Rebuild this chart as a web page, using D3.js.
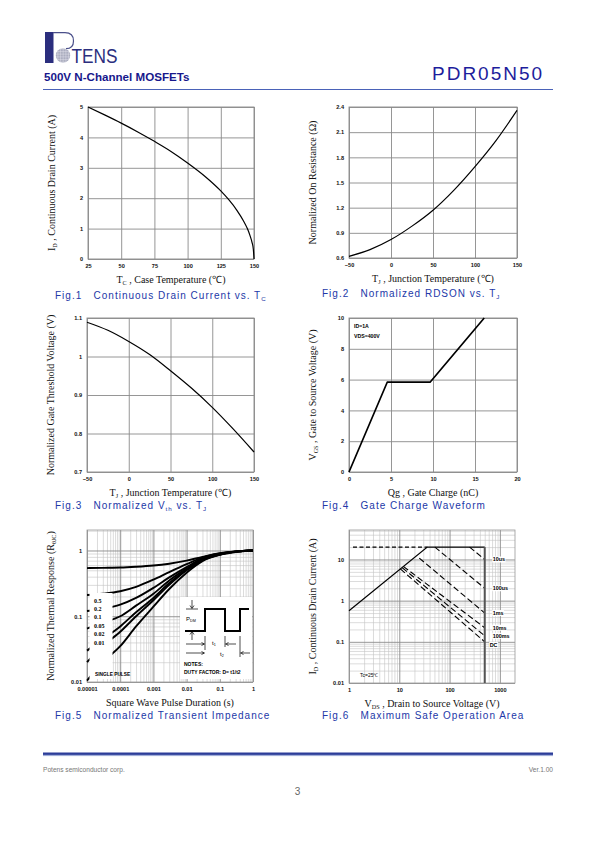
<!DOCTYPE html>
<html><head><meta charset="utf-8">
<script src="https://cdn.jsdelivr.net/npm/d3@7"></script>
<style>body{margin:0;background:#fff}svg{display:block}text{white-space:pre}</style>
</head><body>
<script>
// ---------------- DATA ----------------
// Fig.1  ID vs TC
const fig1_tc = [25,37.5,50,62.5,75,87.5,100,112.5,125,131,137,142,145,147,148.5,149.5,150];
const fig1_id = [5,4.74,4.47,4.18,3.87,3.54,3.16,2.74,2.24,1.95,1.61,1.26,1.0,0.77,0.55,0.32,0];
const fig1_xticks = [25,50,75,100,125,150];
const fig1_yticks = [0,1,2,3,4,5];
// Fig.2  normalized RDS(on) vs TJ
const fig2_tj = [-50,-25,0,25,50,75,100,125,150];
const fig2_r  = [0.62,0.70,0.82,0.98,1.17,1.41,1.69,2.0,2.36];
const fig2_xticks = [-50,0,50,100,150];
const fig2_yticks = [0.6,0.9,1.2,1.5,1.8,2.1,2.4];
// Fig.3  normalized Vth vs TJ
const fig3_tj  = [-50,-25,0,25,50,75,100,125,150];
const fig3_vth = [1.089,1.068,1.039,1.005,0.963,0.918,0.868,0.812,0.752];
const fig3_xticks = [-50,0,50,100,150];
const fig3_yticks = [0.7,0.8,0.9,1,1.1];
// Fig.4  gate charge
const fig4_qg  = [0,4.55,9.65,16.1];
const fig4_vgs = [0,5.83,5.83,10];
const fig4_xticks = [0,5,10,15,20];
const fig4_yticks = [0,2,4,6,8,10];
// Fig.5  transient thermal impedance
const fig5_t      = [1e-5,3e-5,1e-4,3e-4,1e-3,3e-3,1e-2,3e-2,0.1,0.3,1];
const fig5_d050   = [0.54,0.545,0.55,0.565,0.59,0.63,0.70,0.80,0.91,0.97,1.0];
const fig5_d020   = [0.21,0.22,0.24,0.28,0.36,0.47,0.62,0.78,0.90,0.97,1.0];
const fig5_d010   = [0.12,0.13,0.15,0.19,0.27,0.39,0.56,0.75,0.89,0.96,1.0];
const fig5_d005   = [0.065,0.08,0.10,0.145,0.22,0.35,0.53,0.73,0.88,0.96,1.0];
const fig5_d002   = [0.03,0.045,0.07,0.115,0.19,0.32,0.51,0.72,0.87,0.96,1.0];
const fig5_d001   = [0.02,0.035,0.058,0.10,0.175,0.30,0.50,0.71,0.87,0.96,1.0];
const fig5_single = [0.0105,0.02,0.035,0.07,0.14,0.26,0.46,0.69,0.86,0.95,1.0];
const fig5_labels = ["0.5","0.2","0.1","0.05","0.02","0.01"];
const fig5_xticks = [1e-5,1e-4,1e-3,1e-2,1e-1,1];
const fig5_xtickLabels = ["0.00001","0.0001","0.001","0.01","0.1","1"];
const fig5_yticks = [0.01,0.1,1];
const fig5_ytickLabels = ["0.01","0.1","1"];
// Fig.6  safe operating area
const fig6_limit_v = [1,36,500,500];
const fig6_limit_i = [0.57,20,20,0.01];
const fig6_idm_v = [1.2,36];
const fig6_idm_i = [20,20];
const fig6_names = ["10us","100us","1ms","10ms","100ms","DC"];
const fig6_v0 = [250,51,25,12,11.5,10.5];
const fig6_i0 = [20,20,10.8,6.8,6.3,5.9];
const fig6_v1 = [500,500,500,500,500,500];
const fig6_i1 = [10,2.0,0.5,0.22,0.14,0.1];
const fig6_xticks = [1,10,100,1000];
const fig6_yticks = [0.01,0.1,1,10];
const fig6_ytickLabels = ["0.01","0.1","1","10"];

// ---------------- SETUP ----------------
const SANS="'Liberation Sans',Arial,Helvetica,sans-serif";
const SERIF="'Liberation Serif','Times New Roman',serif";
const NAVY="#17178c", CAP="#2238a8";
const svg=d3.select("body").append("svg").attr("width",595).attr("height",842);

function rich(t, parts, fs){
  let prev=false;
  parts.forEach(([s,sub])=>{
    const ts=t.append("tspan").text(s);
    if(sub){ts.attr("font-size",fs*0.62).attr("dy",fs*0.22);}
    else if(prev){ts.attr("dy",-fs*0.22);}
    prev=sub;
  });
  return t;
}

// ---------------- HEADER ----------------
const logo=svg.append("g");
logo.append("rect").attr("x",45).attr("y",32).attr("width",8.5).attr("height",31).attr("fill","#2b2e7e");
logo.append("path").attr("d","M53,32.7 L65,32.7 C71,32.7 73.5,36 73.5,41 C73.5,46 71,48.7 66,48.7").attr("fill","none").attr("stroke","#4a4f8a").attr("stroke-width",1.2);
logo.append("clipPath").attr("id","globe").append("circle").attr("cx",63).attr("cy",55.5).attr("r",7.3);
const gl=logo.append("g").attr("clip-path","url(#globe)");
gl.append("circle").attr("cx",63).attr("cy",55.5).attr("r",7.3).attr("fill","#8d90a8");
d3.range(55.7,71,1.6).forEach(v=>gl.append("line").attr("x1",v).attr("x2",v).attr("y1",48).attr("y2",63).attr("stroke","#e8e8f0").attr("stroke-width",0.5));
d3.range(48.3,63,1.6).forEach(v=>gl.append("line").attr("y1",v).attr("y2",v).attr("x1",55).attr("x2",71).attr("stroke","#e8e8f0").attr("stroke-width",0.5));
logo.append("text").attr("x",71.5).attr("y",63).attr("font-family",SANS).attr("font-size",20)
  .attr("textLength",46).attr("lengthAdjust","spacingAndGlyphs").attr("fill","#2b2e7e").text("TENS");

svg.append("text").attr("x",44).attr("y",80.5).attr("font-family",SANS).attr("font-weight","bold")
  .attr("font-size",11.6).attr("fill",NAVY).text("500V N-Channel MOSFETs");
svg.append("text").attr("x",432).attr("y",80).attr("font-family",SANS).attr("font-size",19)
  .attr("letter-spacing",2).attr("fill","#1d1d9c").text("PDR05N50");
svg.append("line").attr("x1",43).attr("x2",553).attr("y1",89.5).attr("y2",89.5).attr("stroke","#4a62b8").attr("stroke-width",1.2);

// ---------------- FOOTER ----------------
svg.append("rect").attr("x",43).attr("y",752.5).attr("width",510).attr("height",2.4).attr("fill","#2c3d99");
svg.append("line").attr("x1",43).attr("x2",553).attr("y1",755.6).attr("y2",755.6).attr("stroke","#98a6d6").attr("stroke-width",1);
svg.append("text").attr("x",43).attr("y",771.5).attr("font-family",SANS).attr("font-size",6.6).attr("fill","#777").text("Potens semiconductor corp.");
svg.append("text").attr("x",553).attr("y",771.5).attr("text-anchor","end").attr("font-family",SANS).attr("font-size",6.6).attr("fill","#777").text("Ver.1.00");
svg.append("text").attr("x",297.5).attr("y",795).attr("text-anchor","middle").attr("font-family",SANS).attr("font-size",10).attr("fill","#666").text("3");

// ---------------- CHART HELPERS ----------------
function styleGrid(sel,color,w){
  sel.select(".domain").remove();
  sel.selectAll(".tick line").attr("stroke",color).attr("stroke-width",w);
  sel.selectAll(".tick text").remove();
}
function tickLabels(g,axis,transform){
  const a=g.append("g").attr("transform",transform).call(axis);
  a.select(".domain").remove();
  a.selectAll(".tick line").remove();
  a.selectAll(".tick text").attr("font-family",SANS).attr("font-weight","bold").attr("font-size",5.6).attr("fill","#111");
  return a;
}
function titles(c, xParts, yParts, capParts){
  const cx=(c.x0+c.x1)/2, cy=(c.y0+c.y1)/2;
  rich(svg.append("text").attr("x",cx).attr("y",c.y1+24).attr("text-anchor","middle")
    .attr("font-family",SERIF).attr("font-size",10).attr("fill","#111"), xParts, 10);
  rich(svg.append("text").attr("transform",`translate(${c.x0-33},${cy}) rotate(-90)`).attr("text-anchor","middle")
    .attr("font-family",SERIF).attr("font-size",10).attr("fill","#111"), yParts, 10);
  rich(svg.append("text").attr("x",c.capX).attr("y",c.capY).attr("font-family",SANS).attr("font-size",10)
    .attr("letter-spacing",1).attr("fill",CAP), capParts, 10);
}
function linChart(c){
  const x=d3.scaleLinear().domain(c.xd).range([c.x0,c.x1]);
  const y=d3.scaleLinear().domain(c.yd).range([c.y1,c.y0]);
  const g=svg.append("g");
  g.append("rect").attr("x",c.x0).attr("y",c.y0).attr("width",c.x1-c.x0).attr("height",c.y1-c.y0).attr("fill","#fff");
  styleGrid(g.append("g").attr("transform",`translate(0,${c.y1})`).call(d3.axisBottom(x).tickValues(c.xt).tickSize(-(c.y1-c.y0))),"#8a8a8a",0.9);
  styleGrid(g.append("g").attr("transform",`translate(${c.x0},0)`).call(d3.axisLeft(y).tickValues(c.yt).tickSize(-(c.x1-c.x0))),"#8a8a8a",0.9);
  g.append("rect").attr("x",c.x0).attr("y",c.y0).attr("width",c.x1-c.x0).attr("height",c.y1-c.y0).attr("fill","none").attr("stroke","#8a8a8a").attr("stroke-width",0.9);
  tickLabels(g,d3.axisBottom(x).tickValues(c.xt).tickSize(0).tickPadding(5).tickFormat(c.xf||d3.format("")),`translate(0,${c.y1})`);
  tickLabels(g,d3.axisLeft(y).tickValues(c.yt).tickSize(0).tickPadding(5).tickFormat(c.yf||d3.format("")),`translate(${c.x0},0)`);
  return {x,y,g};
}
function logChart(c){
  const x=d3.scaleLog().domain(c.xd).range([c.x0,c.x1]);
  const y=d3.scaleLog().domain(c.yd).range([c.y1,c.y0]);
  const g=svg.append("g");
  const xminor=[],yminor=[];
  for(let e=Math.floor(Math.log10(c.xd[0]));e<=Math.ceil(Math.log10(c.xd[1]));e++)
    for(let k=2;k<=9;k++){const v=k*Math.pow(10,e); if(v>c.xd[0]&&v<c.xd[1]) xminor.push(v);}
  for(let e=Math.floor(Math.log10(c.yd[0]));e<=Math.ceil(Math.log10(c.yd[1]));e++)
    for(let k=2;k<=9;k++){const v=k*Math.pow(10,e); if(v>c.yd[0]&&v<c.yd[1]) yminor.push(v);}
  styleGrid(g.append("g").attr("transform",`translate(0,${c.y1})`).call(d3.axisBottom(x).tickValues(xminor).tickSize(-(c.y1-c.y0))),"#c4c4c4",0.6);
  styleGrid(g.append("g").attr("transform",`translate(${c.x0},0)`).call(d3.axisLeft(y).tickValues(yminor).tickSize(-(c.x1-c.x0))),"#c4c4c4",0.6);
  styleGrid(g.append("g").attr("transform",`translate(0,${c.y1})`).call(d3.axisBottom(x).tickValues(c.xt).tickSize(-(c.y1-c.y0))),"#8a8a8a",0.9);
  styleGrid(g.append("g").attr("transform",`translate(${c.x0},0)`).call(d3.axisLeft(y).tickValues(c.yt).tickSize(-(c.x1-c.x0))),"#8a8a8a",0.9);
  g.append("rect").attr("x",c.x0).attr("y",c.y0).attr("width",c.x1-c.x0).attr("height",c.y1-c.y0).attr("fill","none").attr("stroke","#9a9a9a").attr("stroke-width",0.8);
  tickLabels(g,d3.axisBottom(x).tickValues(c.xt).tickSize(0).tickPadding(5).tickFormat((d,i)=>c.xl[i]),`translate(0,${c.y1})`);
  tickLabels(g,d3.axisLeft(y).tickValues(c.yt).tickSize(0).tickPadding(5).tickFormat((d,i)=>c.yl[i]),`translate(${c.x0},0)`);
  return {x,y,g};
}
function curve(ch,xs,ys,w,curveType){
  const pts=xs.map((v,i)=>[v,ys[i]]);
  ch.g.append("path").datum(pts).attr("fill","none").attr("stroke","#000").attr("stroke-width",w)
    .attr("stroke-linejoin","round")
    .attr("d",d3.line().x(d=>ch.x(d[0])).y(d=>ch.y(d[1])).curve(curveType||d3.curveLinear));
}

// ---------------- FIG 1 ----------------
const c1={x0:88,x1:254,y0:107,y1:259,capX:55,capY:299};
const ch1=linChart({...c1,xd:[25,150],yd:[0,5],xt:fig1_xticks,yt:fig1_yticks});
curve(ch1,fig1_tc,fig1_id,1.2,d3.curveMonotoneX);
titles(c1,[["T"],["C",1],[" , Case Temperature (℃)"]],[["I"],["D",1],[" , Continuous Drain Current (A)"]],
  [["Fig.1   Continuous Drain Current vs. T"],["C",1]]);

// ---------------- FIG 2 ----------------
const c2={x0:349,x1:517,y0:107,y1:258,capX:322,capY:297};
const ch2=linChart({...c2,xd:[-50,150],yd:[0.6,2.4],xt:fig2_xticks,yt:fig2_yticks,yf:d3.format(".1f")});
curve(ch2,fig2_tj,fig2_r,1.2,d3.curveMonotoneX);
titles(c2,[["T"],["J",1],[" , Junction Temperature (℃)"]],[["Normalized On Resistance (Ω)"]],
  [["Fig.2   Normalized RDSON vs. T"],["J",1]]);

// ---------------- FIG 3 ----------------
const c3={x0:87,x1:254,y0:318,y1:472,capX:55,capY:509};
const ch3=linChart({...c3,xd:[-50,150],yd:[0.7,1.1],xt:fig3_xticks,yt:fig3_yticks,yf:d3.format("")});
curve(ch3,fig3_tj,fig3_vth,1.2,d3.curveMonotoneX);
titles(c3,[["T"],["J",1],[" , Junction Temperature (℃)"]],[["Normalized Gate Threshold Voltage (V)"]],
  [["Fig.3   Normalized V"],["th",1],[" vs. T"],["J",1]]);

// ---------------- FIG 4 ----------------
const c4={x0:349,x1:517,y0:318,y1:472,capX:322,capY:509};
const ch4=linChart({...c4,xd:[0,20],yd:[0,10],xt:fig4_xticks,yt:fig4_yticks});
curve(ch4,fig4_qg,fig4_vgs,1.7);
ch4.g.append("text").attr("x",c4.x0+5).attr("y",c4.y0+10).attr("font-family",SANS).attr("font-weight","bold").attr("font-size",5.2).text("ID=1A");
ch4.g.append("text").attr("x",c4.x0+5).attr("y",c4.y0+20).attr("font-family",SANS).attr("font-weight","bold").attr("font-size",5.2).text("VDS=400V");
titles(c4,[["Qg , Gate Charge (nC)"]],[["V"],["GS",1],[" , Gate to Source Voltage (V)"]],
  [["Fig.4   Gate Charge Waveform"]]);

// ---------------- FIG 5 ----------------
const c5={x0:87,x1:253,y0:530,y1:682,capX:55,capY:719};
const ch5=logChart({...c5,xd:[1e-5,1],yd:[0.01,2.05],xt:fig5_xticks,yt:fig5_yticks,xl:fig5_xtickLabels,yl:fig5_ytickLabels});
const fig5_series=[fig5_d050,fig5_d020,fig5_d010,fig5_d005,fig5_d002,fig5_d001,fig5_single];
fig5_series.forEach(s=>curve(ch5,fig5_t,s,1.9,d3.curveMonotoneX));
// label box
const g5=ch5.g;
g5.append("rect").attr("x",c5.x0+2.5).attr("y",593).attr("width",23).attr("height",86).attr("fill","#fff");
fig5_labels.forEach((l,i)=>g5.append("text").attr("x",c5.x0+7).attr("y",602.5+i*8.4).attr("font-family",SERIF).attr("font-weight","bold").attr("font-size",6).text(l));
g5.append("text").attr("x",c5.x0+8).attr("y",675.5).attr("font-family",SANS).attr("font-weight","bold").attr("font-size",4.8).text("SINGLE PULSE");
// inset
g5.append("rect").attr("x",180).attr("y",597).attr("width",72).attr("height",82).attr("fill","#fff");
g5.append("path").attr("d","M185,631 H205 V609 H225 V631 H240 V609 H249").attr("fill","none").attr("stroke","#000").attr("stroke-width",2);
const ink=(d,w)=>g5.append("path").attr("d",d).attr("fill","none").attr("stroke","#000").attr("stroke-width",w||0.7);
ink("M186,609 H198");ink("M192,600 V608");ink("M190,605.5 L192,608.5 L194,605.5");
ink("M192,632 V640");ink("M190,634.5 L192,631.5 L194,634.5");
ink("M205,636 V650");ink("M225,636 V647");ink("M240,636 V657");
ink("M186,644 H204");ink("M201.5,642.5 L204.5,644 L201.5,645.5");
ink("M227,644 H236");ink("M228.5,642.5 L225.5,644 L228.5,645.5");
ink("M186,653 H204");ink("M201.5,651.5 L204.5,653 L201.5,654.5");
ink("M242,653 H250");ink("M243.5,651.5 L240.5,653 L243.5,654.5");
const it=(x,y,parts,fs,bold)=>rich(g5.append("text").attr("x",x).attr("y",y).attr("font-family",SANS).attr("font-size",fs).attr("font-weight",bold?"bold":null),parts,fs);
it(186,621,[["P"],["DM",1]],6,false);
it(212,645,[["t"],["1",1]],6,false);
it(220,656,[["t"],["2",1]],6,false);
it(184,666,[["NOTES:"]],5,true);
it(184,674,[["DUTY FACTOR: D= t1/t2"]],5,true);
titles(c5,[["Square Wave Pulse Duration (s)"]],[["Normalized Thermal Response (R"],["θJC",1],[")"]],
  [["Fig.5   Normalized Transient Impedance"]]);

// ---------------- FIG 6 ----------------
const c6={x0:349,x1:515,y0:530,y1:683,capX:322,capY:719};
const ch6=logChart({...c6,xd:[1,2000],yd:[0.01,52],xt:fig6_xticks,yt:fig6_yticks,xl:fig6_xticks.map(String),yl:fig6_ytickLabels});
const g6=ch6.g;
// IDM dashed
g6.append("path").datum(fig6_idm_v.map((v,i)=>[v,fig6_idm_i[i]])).attr("fill","none").attr("stroke","#000").attr("stroke-width",1.1)
  .attr("stroke-dasharray","4,2.5").attr("d",d3.line().x(d=>ch6.x(d[0])).y(d=>ch6.y(d[1])));
// pulse lines
fig6_names.forEach((n,i)=>{
  g6.append("line").attr("x1",ch6.x(fig6_v0[i])).attr("y1",ch6.y(fig6_i0[i])).attr("x2",ch6.x(fig6_v1[i])).attr("y2",ch6.y(fig6_i1[i]))
    .attr("stroke","#000").attr("stroke-width",1.1).attr("stroke-dasharray","6,3");
});
// limit (solid)
const lim=fig6_limit_v.map((v,i)=>[v,fig6_limit_i[i]]);
g6.append("path").datum(lim.slice(0,3)).attr("fill","none").attr("stroke","#000").attr("stroke-width",1.2)
  .attr("d",d3.line().x(d=>ch6.x(d[0])).y(d=>ch6.y(d[1])));
g6.append("path").datum(lim.slice(2)).attr("fill","none").attr("stroke","#555").attr("stroke-width",2)
  .attr("d",d3.line().x(d=>ch6.x(d[0])).y(d=>ch6.y(d[1])));
fig6_names.forEach((n,i)=>{
  const tx=ch6.x(fig6_v1[i])+(n==="DC"?5:8), ty=ch6.y(fig6_i1[i])+(n==="DC"?5:2);
  const lg=g6.append("g");
  const bgr=lg.append("rect").attr("fill","#fff");
  const t=lg.append("text").attr("x",tx).attr("y",ty).attr("font-family",SANS).attr("font-weight","bold").attr("font-size",5.4).text(n);
  const bb=t.node().getBBox();
  bgr.attr("x",bb.x-0.5).attr("y",bb.y).attr("width",bb.width+1).attr("height",bb.height);
});
g6.append("text").attr("x",c6.x0+11).attr("y",c6.y1-6).attr("font-family",SANS).attr("font-size",5).text("Tc=25℃");
titles(c6,[["V"],["DS",1],[" , Drain to Source Voltage (V)"]],[["I"],["D",1],[" , Continuous Drain Current (A)"]],
  [["Fig.6   Maximum Safe Operation Area"]]);
</script>
</body></html>
